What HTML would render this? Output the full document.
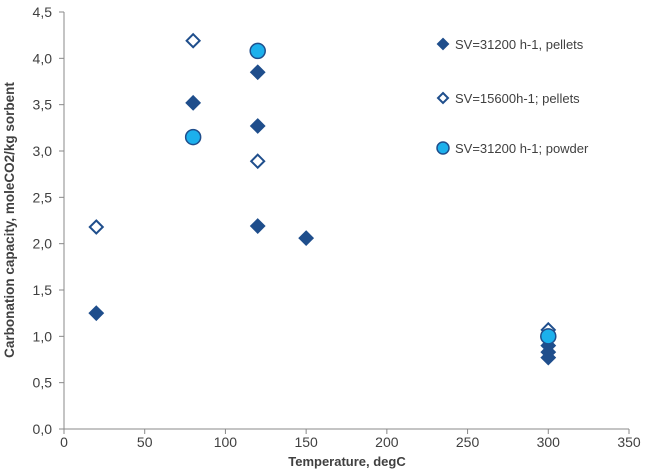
<!DOCTYPE html>
<html><head><meta charset="utf-8"><style>
body{margin:0;background:#fff;font-family:"Liberation Sans",sans-serif}
svg text{font-family:"Liberation Sans",sans-serif;fill:#404040}
</style></head><body>
<svg width="646" height="471">
<g id="axes"></g><g id="marks"></g><g id="legend"></g>
</svg>
<script>
const xTicks=[0,50,100,150,200,250,300,350];
const yTicks=[0,0.5,1,1.5,2,2.5,3,3.5,4,4.5];
const pelletsX=[20,80,120,120,120,150,300,300,300];
const pelletsY=[1.25,3.52,3.85,3.27,2.19,2.06,0.9,0.83,0.77];
const pellets2X=[20,80,120,300];
const pellets2Y=[2.18,4.19,2.89,1.07];
const powderX=[80,120,300];
const powderY=[3.15,4.08,1.0];
const seriesNames=["SV=31200 h-1, pellets","SV=15600h-1; pellets","SV=31200 h-1; powder"];
const NS="http://www.w3.org/2000/svg";
const X=v=>64+v*(565/350), Y=v=>429-v*(417/4.5);
function mk(t,a,p){const e=document.createElementNS(NS,t);for(const k in a)e.setAttribute(k,a[k]);p.appendChild(e);return e;}
const ax=document.getElementById('axes'),mg=document.getElementById('marks'),lg=document.getElementById('legend');
let e=mk('line',{x1:64,y1:Y(4.5),x2:64,y2:429,stroke:'#888'},ax);


e=mk('line',{x1:64,y1:429,x2:X(350),y2:429,stroke:'#888'},ax);


yTicks.forEach(v=>{mk('line',{x1:59,x2:64,y1:Y(v),y2:Y(v),stroke:'#888'},ax);
const t=mk('text',{x:52,y:Y(v)+5,'text-anchor':'end','font-size':14},ax);t.textContent=v.toFixed(1).replace('.',',');

});
xTicks.forEach(v=>{mk('line',{x1:X(v),x2:X(v),y1:429,y2:434,stroke:'#888'},ax);
const t=mk('text',{x:X(v),y:447,'text-anchor':'middle','font-size':14},ax);t.textContent=v;

});
let t=mk('text',{x:347,y:466,'text-anchor':'middle','font-size':13,'font-weight':'bold'},ax);t.textContent='Temperature, degC';


t=mk('text',{x:0,y:0,transform:'translate(14,220) rotate(-90)','text-anchor':'middle','font-size':13.5,'font-weight':'bold'},ax);t.textContent='Carbonation capacity, moleCO2/kg sorbent';


function diamond(cx,cy,fill,p,s){return mk('path',{d:`M${cx} ${cy-s}L${cx+s} ${cy}L${cx} ${cy+s}L${cx-s} ${cy}Z`,fill:fill,stroke:'#1f4e8c','stroke-width':2},p);}
pellets2X.forEach((x,i)=>{const m=diamond(X(x),Y(pellets2Y[i]),'#fff',mg,6.5);

});
pelletsX.forEach((x,i)=>{const m=diamond(X(x),Y(pelletsY[i]),'#1f4e8c',mg,6.5);

});
powderX.forEach((x,i)=>{const m=mk('circle',{cx:X(x),cy:Y(powderY[i]),r:7.5,fill:'#1cb0ec',stroke:'#1f4e8c','stroke-width':1.5},mg);

});
const ly=[44,98,148];
seriesNames.forEach((n,i)=>{let m;
if(i==2)m=mk('circle',{cx:443,cy:ly[i],r:6,fill:'#1cb0ec',stroke:'#1f4e8c','stroke-width':1.5},lg);
else m=diamond(443,ly[i],i==0?'#1f4e8c':'#fff',lg,5);


const tt=mk('text',{x:455,y:ly[i]+5,'font-size':13},lg);tt.textContent=n;

});
</script>
</body></html>
